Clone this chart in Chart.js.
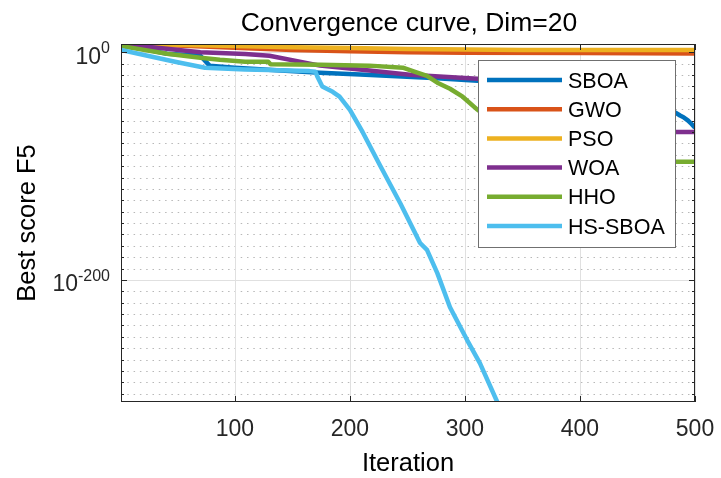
<!DOCTYPE html>
<html>
<head>
<meta charset="utf-8">
<script src="https://cdn.jsdelivr.net/npm/chart.js@4.4.1/dist/chart.umd.min.js"></script>
<style>
    html, body { margin: 0; padding: 0; background: #fff; }
</style>
</head>
<body>
<canvas id="curveChart" width="721" height="478"></canvas>
<script>
// Series (iteration -> best score)
const algoNames = ['SBOA', 'GWO', 'PSO', 'WOA', 'HHO', 'HS-SBOA'];
const algoColors = ['#0072BD', '#D95319', '#EDB120', '#7E2F8E', '#77AC30', '#4DBEEE'];

const sboaIter = [1, 20, 41, 70, 78, 100, 140, 174, 209, 272, 311, 350, 400, 450, 475, 483, 487, 490, 494, 497, 500];
const sboaScore = [2e7, 1e3, 6e-2, 1e-3, 2e-12, 3e-14, 1e-16, 1e-18, 4e-20, 3e-23, 1e-25, 3e-28, 1e-32, 1e-40, 1e-48, 1e-53, 3e-56, 1e-57, 1e-60, 1e-63, 5e-67];

const gwoIter = [1, 25, 50, 100, 150, 200, 250, 300, 400, 500];
const gwoScore = [3e7, 3e6, 1e6, 1e4, 1e2, 1e1, 1e0, 5e-1, 2e-1, 1e-1];

const psoIter = [1, 25, 50, 100, 150, 200, 250, 300, 350, 500];
const psoScore = [4e7, 2e7, 5e6, 3e5, 3e4, 5e3, 1e3, 3e2, 1e2, 1e2];

const woaIter = [1, 26, 70, 109, 130, 174, 217, 252, 311, 350, 400, 440, 470, 483, 500];
const woaScore = [4e7, 5e4, 1e0, 3e-2, 1e-3, 2e-12, 1e-16, 2e-20, 6e-24, 1e-27, 1e-35, 1e-48, 1e-62, 1e-70, 1e-70];

const hhoIter = [1, 41, 70, 87, 109, 129, 131, 174, 217, 246, 256, 267, 276, 287, 298, 311, 330, 360, 400, 450, 500];
const hhoScore = [3e5, 6e-2, 2e-5, 3e-7, 5e-9, 5e-9, 3e-11, 1e-11, 2e-12, 3e-14, 1e-17, 2e-21, 2e-27, 1e-32, 1e-39, 3e-51, 1e-65, 1e-82, 1e-92, 6e-97, 6e-97];

const hssboaIter = [1, 24, 48, 74, 109, 139, 165, 170, 172, 176, 185, 191, 200, 211, 226, 244, 261, 267, 276, 287, 302, 313, 328, 331];
const hssboaScore = [1e2, 1e-3, 5e-9, 3e-14, 1e-15, 2e-16, 3e-17, 1e-17, 1e-22, 1e-30, 2e-35, 1e-39, 3e-51, 1e-70, 1e-99, 1e-133, 3e-168, 3e-174, 1e-194, 1e-224, 1e-253, 1e-273, 1e-307, 1e-310];

// axis ticks
const xTicks = [100, 200, 300, 400, 500];
const yTickExps = [0, -200];
const yMinorExps = [0, -10, -20, -30, -40, -50, -60, -70, -80, -90, -100, -110, -120, -130, -140, -150,
    -160, -170, -180, -190, -200, -210, -220, -230, -240, -250, -260, -270, -280, -290, -300];

const FONT = '"Liberation Sans", Arial, Helvetica, sans-serif';

function pairs(iters, scores) {
    return iters.map((it, i) => ({ x: it, y: scores[i] }));
}

const seriesData = [
    pairs(sboaIter, sboaScore),
    pairs(gwoIter, gwoScore),
    pairs(psoIter, psoScore),
    pairs(woaIter, woaScore),
    pairs(hhoIter, hhoScore),
    pairs(hssboaIter, hssboaScore)
];

function hLine(ctx, x1, x2, y) {
    ctx.beginPath();
    ctx.moveTo(x1, y);
    ctx.lineTo(x2, y);
    ctx.stroke();
}

function vLine(ctx, x, y1, y2) {
    ctx.beginPath();
    ctx.moveTo(x, y1);
    ctx.lineTo(x, y2);
    ctx.stroke();
}

// MATLAB-like axes: grid, box, inward ticks, labels, legend
const matlabAxes = {
    id: 'matlabAxes',
    beforeDatasetsDraw(chart) {
        const { ctx, chartArea: a, scales: { x, y } } = chart;
        ctx.save();
        ctx.lineWidth = 1;

        // minor dotted grid
        ctx.strokeStyle = '#b8b8b8';
        ctx.setLineDash([1.5, 4.8]);
        yMinorExps.forEach(e => {
            if (yTickExps.includes(e)) return;
            const py = Math.round(y.getPixelForValue(Math.pow(10, e))) + 0.5;
            hLine(ctx, a.left, a.right, py);
        });
        ctx.setLineDash([]);

        // major grid
        ctx.strokeStyle = '#e0e0e0';
        xTicks.forEach(t => {
            const px = Math.round(x.getPixelForValue(t)) + 0.5;
            vLine(ctx, px, a.top, a.bottom);
        });
        yTickExps.forEach(e => {
            const py = Math.round(y.getPixelForValue(Math.pow(10, e))) + 0.5;
            hLine(ctx, a.left, a.right, py);
        });
        ctx.restore();
    },
    afterDatasetsDraw(chart) {
        const { ctx, chartArea: a, scales: { x, y } } = chart;
        ctx.save();
        ctx.strokeStyle = '#262626';
        ctx.lineWidth = 1;
        ctx.strokeRect(Math.round(a.left) + 0.5, Math.round(a.top) + 0.5,
            Math.round(a.right - a.left) - 1, Math.round(a.bottom - a.top) - 1);

        // inward ticks
        xTicks.forEach(t => {
            const px = Math.round(x.getPixelForValue(t)) + 0.5;
            vLine(ctx, px, a.bottom, a.bottom - 6);
            vLine(ctx, px, a.top, a.top + 6);
        });
        yMinorExps.forEach(e => {
            const len = yTickExps.includes(e) ? 6 : 3;
            const py = Math.round(y.getPixelForValue(Math.pow(10, e))) + 0.5;
            hLine(ctx, a.left, a.left + len, py);
            hLine(ctx, a.right - len, a.right, py);
        });

        // legend box
        const lx = 478.5, ly = 60.5, lw = 197, lh = 187;
        ctx.fillStyle = '#ffffff';
        ctx.fillRect(lx, ly, lw, lh);
        ctx.strokeStyle = '#707070';
        ctx.strokeRect(lx, ly, lw, lh);
        ctx.font = '21.5px ' + FONT;
        ctx.textAlign = 'left';
        ctx.textBaseline = 'alphabetic';
        chart.data.datasets.forEach((ds, i) => {
            const ry = 80 + i * 29.2;
            ctx.strokeStyle = ds.borderColor;
            ctx.lineWidth = 4.5;
            hLine(ctx, 487, 562, ry);
            ctx.fillStyle = '#000';
            ctx.fillText(ds.label, 568, ry + 7.5);
        });
        ctx.restore();
    },
    afterDraw(chart) {
        const { ctx, chartArea: a, scales: { x, y } } = chart;
        ctx.save();
        ctx.fillStyle = '#000';
        ctx.textBaseline = 'alphabetic';

        // title
        ctx.font = '26.5px ' + FONT;
        ctx.textAlign = 'center';
        ctx.fillText('Convergence curve, Dim=20', (a.left + a.right) / 2 + 1, 31);

        // x tick labels
        ctx.font = '23px ' + FONT;
        ctx.fillStyle = '#262626';
        xTicks.forEach(t => {
            ctx.fillText(String(t), x.getPixelForValue(t), 436);
        });

        // x axis title
        ctx.font = '25.5px ' + FONT;
        ctx.fillStyle = '#000';
        ctx.fillText('Iteration', (a.left + a.right) / 2, 471);

        // y axis title
        ctx.save();
        ctx.translate(35, (a.top + a.bottom) / 2);
        ctx.rotate(-Math.PI / 2);
        ctx.fillText('Best score F5', 0, 0);
        ctx.restore();

        // y tick labels with superscript exponent
        ctx.fillStyle = '#262626';
        ctx.textAlign = 'left';
        const right = a.left - 11;
        yTickExps.forEach(e => {
            const py = y.getPixelForValue(Math.pow(10, e));
            const exp = String(e);
            ctx.font = '16px ' + FONT;
            const supW = ctx.measureText(exp).width;
            ctx.font = '23px ' + FONT;
            const baseW = ctx.measureText('10').width;
            ctx.fillText('10', right - supW - baseW, py + 11.5);
            ctx.font = '16px ' + FONT;
            ctx.fillText(exp, right - supW, py + 1);
        });
        ctx.restore();
    }
};

new Chart(document.getElementById('curveChart'), {
    type: 'line',
    data: {
        datasets: seriesData.map((pts, i) => ({
            label: algoNames[i],
            data: pts,
            borderColor: algoColors[i],
            backgroundColor: algoColors[i],
            borderWidth: 4.5,
            pointRadius: 0,
            tension: 0,
            fill: false,
            clip: 0,
            borderJoinStyle: 'round',
            order: algoNames.length - i
        }))
    },
    options: {
        responsive: false,
        animation: false,
        devicePixelRatio: 1,
        layout: { padding: { left: 121, right: 26, top: 44, bottom: 76 } },
        plugins: {
            legend: { display: false },
            title: { display: false },
            tooltip: { enabled: false }
        },
        scales: {
            x: {
                type: 'linear',
                min: 1,
                max: 500,
                display: false,
                afterBuildTicks: scale => { scale.ticks = xTicks.map(v => ({ value: v })); }
            },
            y: {
                type: 'logarithmic',
                min: 6e-308,
                max: 2e7,
                display: false,
                afterBuildTicks: scale => { scale.ticks = yMinorExps.map(e => ({ value: Math.pow(10, e) })); }
            }
        }
    },
    plugins: [matlabAxes]
});
</script>
</body>
</html>
